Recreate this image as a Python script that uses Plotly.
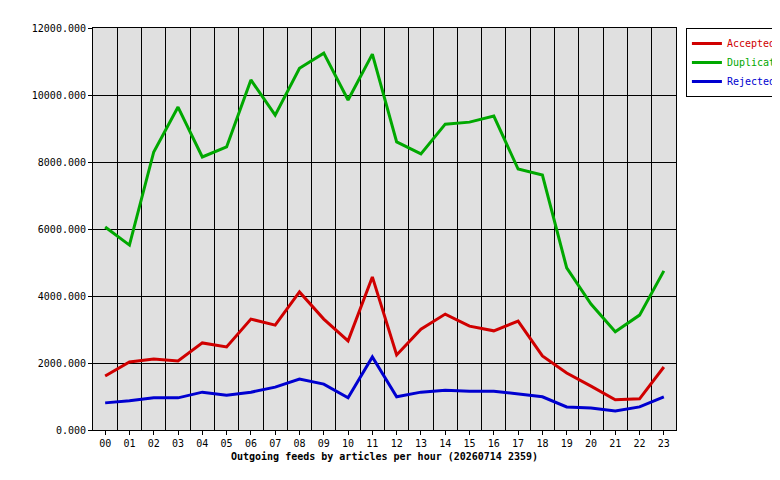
import plotly.graph_objects as go

hours = ["%02d" % h for h in range(24)]
accepted = [1610, 2030, 2120, 2060, 2600, 2480, 3310, 3130, 4120, 3310, 2660, 4570,
            2240, 3010, 3460, 3100, 2960, 3250, 2210, 1700, 1310, 900, 930, 1880]
duplicates = [6060, 5520, 8300, 9640, 8150, 8450, 10450, 9400, 10800, 11250, 9850, 11220,
              8600, 8240, 9130, 9190, 9370, 7790, 7610, 4840, 3760, 2930, 3430, 4750]
rejected = [810, 870, 960, 960, 1130, 1040, 1130, 1280, 1520, 1370, 960, 2180,
            990, 1130, 1190, 1160, 1160, 1070, 990, 690, 660, 570, 690, 990]

series = [("Accepted", accepted, "#d00000"),
          ("Duplicates", duplicates, "#00a800"),
          ("Rejected", rejected, "#0000d0")]

x = list(range(24))
fig = go.Figure()
for name, vals, col in series:
    fig.add_trace(go.Scatter(x=x, y=vals, name='<span style="color:%s">%s</span>' % (col, name),
                             mode="lines", line=dict(color=col, width=3)))

fig.update_layout(
    width=780, height=480,
    margin=dict(l=85, r=112, t=20, b=58, autoexpand=False),
    paper_bgcolor="white", plot_bgcolor="#e0e0e0",
    font=dict(family="DejaVu Sans Mono", size=10, color="black"),
    legend=dict(x=1.017, y=1, xanchor="left", yanchor="top",
                bordercolor="black", borderwidth=1, bgcolor="white",
                font=dict(size=10), itemwidth=30, tracegroupgap=0),
)

fig.update_xaxes(range=[-0.5, 23.5], tickvals=x, ticktext=hours, showgrid=False,
                 ticks="outside", ticklen=4, tickcolor="black", automargin=False,
                 showline=True, linecolor="black", mirror=True, zeroline=False,
                 minor=dict(tickvals=[i + 0.5 for i in range(23)], showgrid=True,
                            gridcolor="black", gridwidth=1),
                 title=dict(text="<b>Outgoing feeds by articles per hour (20260714 2359)</b>",
                            font=dict(size=10), standoff=4))
fig.update_yaxes(range=[0, 12000], dtick=2000, tickformat=".3f", automargin=False,
                 gridcolor="black", gridwidth=1, showline=True, linecolor="black",
                 mirror=True, zeroline=False, ticks="outside", ticklen=4, tickcolor="black")

fig.write_html("out.html")
